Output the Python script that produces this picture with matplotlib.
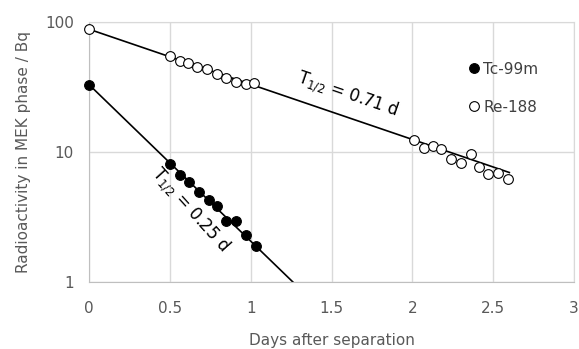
import numpy as np
import matplotlib
matplotlib.use('Agg')
import matplotlib.pyplot as plt

plt.rcParams['font.family'] = ['DejaVu Sans']
plt.rcParams['mathtext.default'] = 'regular'

# measured activities (days after separation, Bq)
tc_days = [0.0, 0.50, 0.56, 0.62, 0.68, 0.74, 0.79, 0.85, 0.91, 0.97, 1.03]
tc_act = [32.6, 8.1, 6.65, 5.9, 4.95, 4.3, 3.85, 2.95, 2.95, 2.3, 1.9]

re_days = [0.0, 0.50, 0.56, 0.61, 0.67, 0.73, 0.79, 0.85, 0.91, 0.97, 1.02,
           2.01, 2.07, 2.13, 2.18, 2.24, 2.30, 2.36, 2.41, 2.47, 2.53, 2.59]
re_act = [88.0, 55.0, 50.0, 48.0, 45.3, 43.5, 40.0, 37.0, 34.7, 33.3, 33.7,
          12.4, 10.7, 11.1, 10.5, 8.9, 8.3, 9.7, 7.7, 6.8, 6.9, 6.2]

# exponential fits: A0, half-life (d), fit range
tc_a0, tc_half, tc_range = 33.0, 0.25, (0.0, 1.3)
re_a0, re_half, re_range = 88.0, 0.71, (0.0, 2.6)

xticks = [0, 0.5, 1, 1.5, 2, 2.5, 3]
xticklabels = ['0', '0.5', '1', '1.5', '2', '2.5', '3']
yticks = [1, 10, 100]
yticklabels = ['1', '10', '100']

txt_gray = '#595959'
grid_gray = '#d9d9d9'


def decay(a0, half, t):
    return a0 * np.exp(-np.log(2) / half * t)


fig = plt.figure(figsize=(5.79, 3.49), dpi=100)
ax = fig.add_axes([0.1537, 0.192, 0.8377, 0.745])

t = np.linspace(*tc_range, 200)
ax.plot(t, decay(tc_a0, tc_half, t), color='black', lw=1.2, zorder=2)
t = np.linspace(*re_range, 200)
ax.plot(t, decay(re_a0, re_half, t), color='black', lw=1.2, zorder=2)

ax.plot(tc_days, tc_act, 'o', ms=7, mfc='black', mec='black', mew=0.8,
        label='Tc-99m', zorder=3, clip_on=False)
ax.plot(re_days, re_act, 'o', ms=7, mfc='white', mec='black', mew=0.8,
        label='Re-188', zorder=3, clip_on=False)

ax.text(1.6, 27.5, r'T$_{1/2}$ = 0.71 d', rotation=-19, fontsize=12,
        ha='center', va='center', color='black')
ax.text(0.625, 3.6, r'T$_{1/2}$ = 0.25 d', rotation=-48, fontsize=12,
        ha='center', va='center', color='black')

ax.set_yscale('log')
ax.set_xlim(0, 3)
ax.set_ylim(1, 100)
ax.set_xticks(xticks)
ax.set_xticklabels(xticklabels)
ax.set_yticks(yticks)
ax.set_yticklabels(yticklabels)
ax.minorticks_off()
ax.tick_params(length=0, labelsize=11, colors=txt_gray)
ax.tick_params(axis='y', pad=11)
ax.tick_params(axis='x', pad=14)
ax.grid(True, color=grid_gray, lw=1)
ax.set_axisbelow(True)
for s in ax.spines.values():
    s.set_color(grid_gray)
ax.spines['left'].set_color('#bfbfbf')
ax.spines['bottom'].set_color('#bfbfbf')

ax.set_xlabel('Days after separation', fontsize=11, color=txt_gray, labelpad=12)
ax.set_ylabel('Radioactivity in MEK phase / Bq', fontsize=11, color=txt_gray,
              labelpad=10)

ax.legend(loc='upper right', bbox_to_anchor=(0.955, 0.90), frameon=False,
          fontsize=11, handletextpad=0.1, markerscale=1.0, labelspacing=1.5,
          handlelength=1.0, labelcolor='#404040')

fig.savefig('out.png', dpi=100)
